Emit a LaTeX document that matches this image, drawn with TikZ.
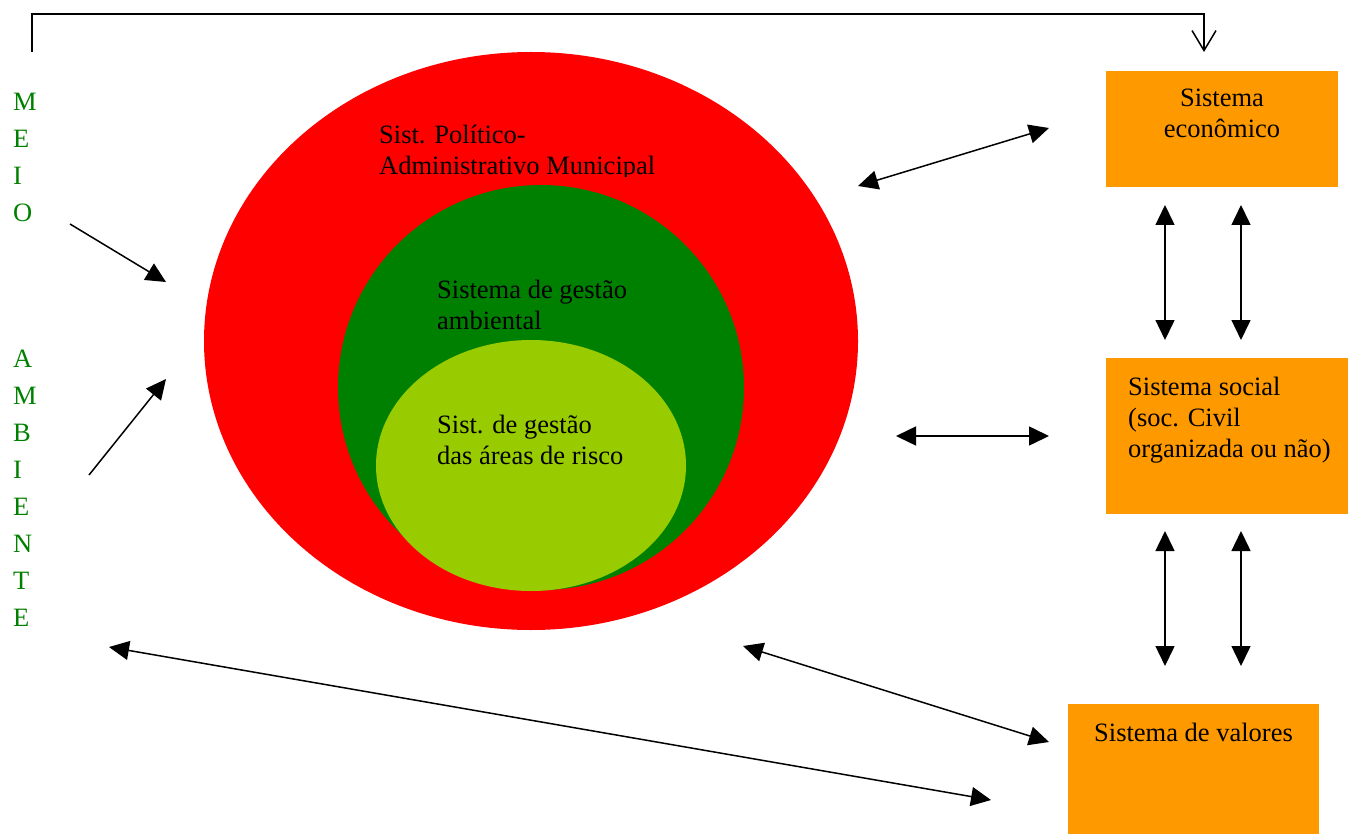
\documentclass[tikz,border=0pt]{standalone}
\usepackage{fontspec}
\setmainfont{Liberation Serif}
\usetikzlibrary{arrows.meta,shapes.geometric}
\definecolor{redfill}{HTML}{FF0000}
\definecolor{dkgreen}{HTML}{008000}
\definecolor{ltgreen}{HTML}{99CC00}
\definecolor{orangefill}{HTML}{FF9900}
\begin{document}
\begin{tikzpicture}[x=1pt,y=-1pt,
  txt/.style={font=\fontsize{26.5}{31}\selectfont, inner sep=0pt, align=left, anchor=base west, text=black},
  vword/.style={font=\fontsize{26.5}{37}\selectfont, inner sep=0pt, align=left, anchor=base west, text=dkgreen},
  sysbox/.style={fill=orangefill, inner sep=0pt, draw=none, rectangle},
  blob/.style={ellipse, inner sep=0pt, draw=none},
  tri/.tip={Triangle[length=20pt,width=19pt]},
  biarrow/.style={line width=1.5pt, tri-tri},
  onearrow/.style={line width=1.5pt, -tri},
]
\useasboundingbox (0,0) rectangle (1348,834);

% nested systems
\node[blob, fill=redfill, minimum width=654pt, minimum height=578pt] (pol) at (531,341) {};
\node[blob, fill=dkgreen, minimum width=406pt, minimum height=405pt] (amb) at (541,387.5) {};
\node[blob, fill=ltgreen, minimum width=310pt, minimum height=251pt] (risco) at (531,465.5) {};

% (multi-line nodes: base anchor = baseline of last line)
\begin{scope}
  \clip (370,100) rectangle (700,177);
  \node[txt] (polT) at (379,175) {Sist. Político-\\Administrativo Municipal};
\end{scope}
\node[txt] (ambT) at (437,329) {Sistema de gestão\\ambiental};
\node[txt] (riscoT) at (437,464) {Sist. de gestão\\das áreas de risco};

% vertical words
\node[vword] (meio) at (13,222) {M\\E\\I\\O};
\node[vword] (ambiente) at (13,626) {A\\M\\B\\I\\E\\N\\T\\E};

% boxes
\node[sysbox, minimum width=232pt, minimum height=116pt] (econ) at (1222,129) {};
\node[txt, align=center, anchor=base] (econT) at (1222,138) {Sistema\\econômico};
\node[sysbox, minimum width=242pt, minimum height=156pt] (social) at (1227,436) {};
\node[txt] (socialT) at (1128,457) {Sistema social\\(soc. Civil\\organizada ou não)};
\node[sysbox, minimum width=251pt, minimum height=130pt] (valores) at (1193.5,769) {};
\node[txt, anchor=base] (valoresT) at (1193.5,741) {Sistema de valores};

% top connector
\coordinate (topL) at (32,52);
\coordinate (topR) at (1204,52);
\draw[line width=1.5pt, -{Straight Barb[length=20pt,width=24pt]}] (topL) -- ++(0,-38) -| (topR);

% arrows from environment
\coordinate (m1) at (70,224);
\coordinate (m2) at (166,282);
\draw[onearrow] (m1) -- (m2);
\coordinate (a1) at (89,475);
\coordinate (a2) at (166,379);
\draw[onearrow] (a1) -- (a2);

% interactions
\coordinate (e1) at (858,186);
\coordinate (e2) at (1049,128);
\draw[biarrow] (e1) -- (e2);
\coordinate (s1) at (896,436);
\coordinate (s2) at (1049,436);
\draw[biarrow] (s1) -- (s2);
\coordinate (v1) at (743,646);
\coordinate (v2) at (1049,742);
\draw[biarrow] (v1) -- (v2);
\coordinate (l1) at (109,647);
\coordinate (l2) at (991,800);
\draw[biarrow] (l1) -- (l2);

\coordinate (es1a) at (1165,205);
\coordinate (es1b) at (1165,340);
\draw[biarrow] (es1a) -- (es1b);
\coordinate (es2a) at (1241,205);
\coordinate (es2b) at (1241,340);
\draw[biarrow] (es2a) -- (es2b);
\coordinate (sv1a) at (1165,531);
\coordinate (sv1b) at (1165,666);
\draw[biarrow] (sv1a) -- (sv1b);
\coordinate (sv2a) at (1241,531);
\coordinate (sv2b) at (1241,666);
\draw[biarrow] (sv2a) -- (sv2b);
\end{tikzpicture}
\end{document}
